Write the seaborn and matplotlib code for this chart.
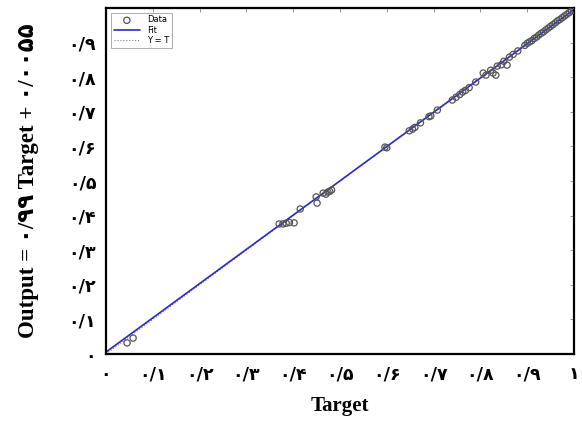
import matplotlib
matplotlib.use("Agg")
import matplotlib.pyplot as plt
import seaborn as sns
import pandas as pd

# ---- data ----
target = [0.045, 0.058, 0.370, 0.378, 0.385, 0.392, 0.402, 0.415, 0.449, 0.451,
          0.464, 0.470, 0.474, 0.478, 0.482, 0.596, 0.600, 0.648, 0.655, 0.660,
          0.672, 0.690, 0.694, 0.708, 0.740, 0.748, 0.756, 0.762, 0.768, 0.776,
          0.790, 0.806, 0.812, 0.822, 0.827, 0.833, 0.836, 0.845, 0.850, 0.857,
          0.862, 0.870, 0.880, 0.895, 0.900, 0.905, 0.910, 0.915, 0.920, 0.925,
          0.930, 0.935, 0.940, 0.945, 0.950, 0.955, 0.960, 0.965, 0.970, 0.975,
          0.980, 0.985, 0.990, 0.995, 1.000]
output = [0.032, 0.046, 0.376, 0.376, 0.378, 0.380, 0.379, 0.419, 0.454, 0.436,
          0.465, 0.462, 0.468, 0.470, 0.474, 0.598, 0.596, 0.645, 0.650, 0.655,
          0.668, 0.686, 0.688, 0.705, 0.734, 0.742, 0.750, 0.757, 0.762, 0.770,
          0.786, 0.812, 0.806, 0.820, 0.812, 0.806, 0.832, 0.836, 0.846, 0.835,
          0.858, 0.866, 0.876, 0.892, 0.898, 0.902, 0.906, 0.912, 0.916, 0.922,
          0.927, 0.931, 0.937, 0.942, 0.947, 0.952, 0.957, 0.963, 0.967, 0.972,
          0.977, 0.982, 0.987, 0.992, 0.996]
fit_x = [0.0, 1.0]
fit_y = [0.0055, 0.9955]
ident_x = [0.0, 1.0]
ident_y = [0.0, 1.0]

xticks = [0.0, 0.1, 0.2, 0.3, 0.4, 0.5, 0.6, 0.7, 0.8, 0.9, 1.0]
xtick_labels = ["۰", "۰/۱", "۰/۲", "۰/۳", "۰/۴", "۰/۵", "۰/۶", "۰/۷", "۰/۸", "۰/۹", "۱"]
yticks = [0.0, 0.1, 0.2, 0.3, 0.4, 0.5, 0.6, 0.7, 0.8, 0.9, 1.0]
ytick_labels = ["۰", "۰/۱", "۰/۲", "۰/۳", "۰/۴", "۰/۵", "۰/۶", "۰/۷", "۰/۸", "۰/۹", ""]
xlabel = "Target"
ylabel = "Output = ۰/۹۹ Target + ۰/۰۰۵۵"

sns.set_theme(style="white")
plt.rcParams["font.family"] = ["DejaVu Sans"]
plt.rcParams["text.color"] = "black"
plt.rcParams["axes.labelcolor"] = "black"
plt.rcParams["xtick.labelcolor"] = "black"
plt.rcParams["ytick.labelcolor"] = "black"

df = pd.DataFrame({"Target": target, "Output": output})
df_fit = pd.DataFrame({"x": fit_x, "y": fit_y})
df_id = pd.DataFrame({"x": ident_x, "y": ident_y})

fig = plt.figure(figsize=(5.82, 4.34), dpi=100)
ax = fig.add_axes([106 / 582, 80 / 434, 468 / 582, 346 / 434])

sns.scatterplot(data=df, x="Target", y="Output", ax=ax, marker="o",
                facecolors="none", edgecolor="#555555", linewidth=0.9, s=20,
                label="Data", zorder=3)
sns.lineplot(data=df_fit, x="x", y="y", ax=ax, color="#2b2bc4", linewidth=1.2,
             label="Fit", zorder=2)
sns.lineplot(data=df_id, x="x", y="y", ax=ax, color="#7777aa", linewidth=0.8,
             linestyle=":", label="Y = T", zorder=1)

ax.set_xlim(0, 1)
ax.set_ylim(0, 1)
ax.set_xticks(xticks)
ax.set_xticklabels(xtick_labels, fontsize=12.5, fontweight="bold", color="black")
ax.set_yticks(yticks)
ax.set_yticklabels(ytick_labels, fontsize=12.5, fontweight="bold", color="black")
ax.tick_params(axis="both", direction="in", length=3, width=0.6, color="#888888",
               top=True, right=True, labeltop=False, labelright=False)
ax.tick_params(axis="x", pad=8)
ax.tick_params(axis="y", pad=7)

for s in ax.spines.values():
    s.set_linewidth(1.6)
    s.set_color("black")

ax.set_xlabel(xlabel, fontsize=15, fontweight="bold", color="black",
              family=["Liberation Serif", "DejaVu Sans"], labelpad=9)
ax.set_ylabel(ylabel, fontsize=16.5, fontweight="bold", color="black",
              family=["Liberation Serif", "DejaVu Sans"], labelpad=21)

leg = ax.legend(loc="upper left", fontsize=6, frameon=True, fancybox=False,
                edgecolor="#888888", handlelength=3.2, borderpad=0.3,
                labelspacing=0.15, handletextpad=0.8, borderaxespad=0.6)
leg.get_frame().set_linewidth(0.6)

fig.savefig("out.png", dpi=100)
